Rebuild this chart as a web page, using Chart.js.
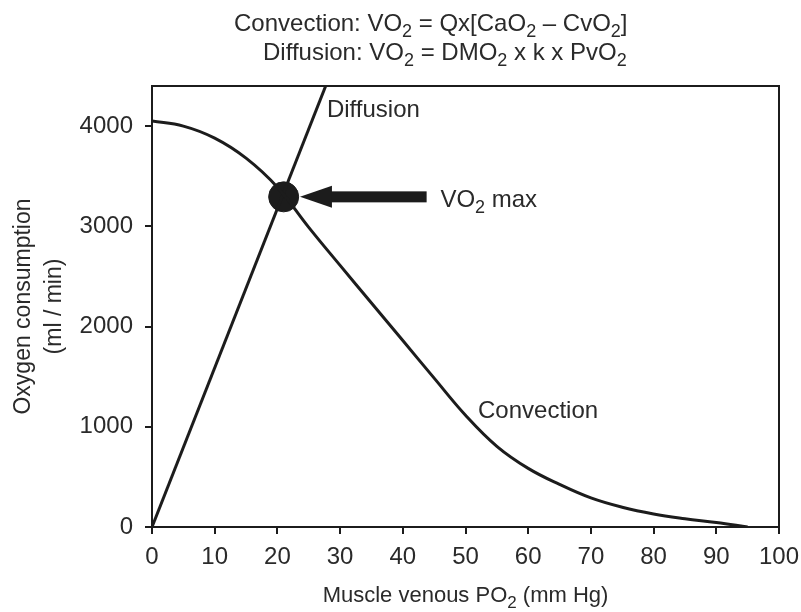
<!DOCTYPE html>
<html>
<head>
<meta charset="utf-8">
<script src="https://cdn.jsdelivr.net/npm/chart.js@4.4.0/dist/chart.umd.min.js"></script>
<style>
  body { margin: 0; background: #fff; }
  #wrap { width: 801px; height: 612px; }
</style>
</head>
<body>
<div id="wrap"><canvas id="canvas" width="801" height="612"></canvas></div>
<script>
// values
const convX = [0, 5, 10, 15, 20, 25, 30, 35, 40, 45, 50, 55, 60, 65, 70, 75, 80, 85, 90, 95];
const convY = [4050, 4000, 3880, 3680, 3390, 2990, 2610, 2235, 1860, 1485, 1115, 805, 585, 425, 290, 197, 130, 83, 45, 0];
const diffX = [0, 27.7];
const diffY = [0, 4400];
const vo2maxX = [21];
const vo2maxY = [3294];
const xTicks = [0, 10, 20, 30, 40, 50, 60, 70, 80, 90, 100];
const yTicks = [0, 1000, 2000, 3000, 4000];

const ink = '#1c1c1c';
const textCol = '#2a2a2a';
const fontName = '"Liberation Sans", Arial, Helvetica, sans-serif';

// draws text with subscript parts: [[text, isSub], ...]
function drawRich(ctx, parts, x, y, size, align) {
  let total = 0;
  parts.forEach(p => {
    ctx.font = (p[1] ? Math.round(size * 0.75) : size) + 'px ' + fontName;
    total += ctx.measureText(p[0]).width;
  });
  let cx = x;
  if (align === 'center') cx = x - total / 2;
  parts.forEach(p => {
    ctx.font = (p[1] ? Math.round(size * 0.75) : size) + 'px ' + fontName;
    ctx.fillText(p[0], cx, p[1] ? y + 6 : y);
    cx += ctx.measureText(p[0]).width;
  });
}

const extras = {
  id: 'extras',
  afterDatasetsDraw(chart) {
    const ctx = chart.ctx;
    const xs = chart.scales.x;
    const ys = chart.scales.y;
    const area = chart.chartArea;
    ctx.save();

    // top + right border of the box
    ctx.strokeStyle = ink;
    ctx.lineWidth = 2;
    ctx.beginPath();
    ctx.moveTo(area.left, area.top);
    ctx.lineTo(area.right, area.top);
    ctx.lineTo(area.right, area.bottom);
    ctx.stroke();

    // arrow pointing at VO2 max
    const py = ys.getPixelForValue(vo2maxY[0]);
    const tip = xs.getPixelForValue(23.6);
    const headBase = xs.getPixelForValue(28.7);
    const tail = xs.getPixelForValue(43.8);
    ctx.fillStyle = ink;
    ctx.fillRect(headBase - 1, py - 5.5, tail - headBase + 1, 11);
    ctx.beginPath();
    ctx.moveTo(tip, py);
    ctx.lineTo(headBase, py - 11);
    ctx.lineTo(headBase, py + 11);
    ctx.closePath();
    ctx.fill();

    ctx.fillStyle = textCol;
    ctx.textBaseline = 'alphabetic';
    ctx.textAlign = 'left';

    // curve labels
    drawRich(ctx, [['Diffusion', 0]], xs.getPixelForValue(27.9), ys.getPixelForValue(4087), 24);
    drawRich(ctx, [['Convection', 0]], xs.getPixelForValue(52), ys.getPixelForValue(1087), 24);
    drawRich(ctx, [['VO', 0], ['2', 1], [' max', 0]], xs.getPixelForValue(46), ys.getPixelForValue(3190), 24);

    // equations above the plot
    drawRich(ctx, [['Convection: VO', 0], ['2', 1], [' = Qx[CaO', 0], ['2', 1], [' \u2013 CvO', 0], ['2', 1], [']', 0]], 234, 31, 24);
    drawRich(ctx, [['Diffusion: VO', 0], ['2', 1], [' = DMO', 0], ['2', 1], [' x k x PvO', 0], ['2', 1]], 263, 60, 24);

    // x axis title
    drawRich(ctx, [['Muscle venous PO', 0], ['2', 1], [' (mm Hg)', 0]], (area.left + area.right) / 2, 602, 22, 'center');

    // y axis title, two lines rotated
    const midY = (area.top + area.bottom) / 2;
    ctx.translate(0, midY);
    ctx.rotate(-Math.PI / 2);
    ctx.textAlign = 'center';
    ctx.font = '23px ' + fontName;
    ctx.fillText('Oxygen consumption', 0, 30);
    ctx.fillText('(ml / min)', 0, 61);
    ctx.restore();
  }
};

const data = {
  datasets: [
    {
      label: 'Convection',
      data: convX.map((x, i) => ({ x: x, y: convY[i] })),
      showLine: true,
      borderColor: ink,
      borderWidth: 3,
      pointRadius: 0,
      tension: 0.4
    },
    {
      label: 'Diffusion',
      data: diffX.map((x, i) => ({ x: x, y: diffY[i] })),
      showLine: true,
      borderColor: ink,
      borderWidth: 3,
      pointRadius: 0
    },
    {
      label: 'VO2 max',
      data: vo2maxX.map((x, i) => ({ x: x, y: vo2maxY[i] })),
      showLine: false,
      pointRadius: 15,
      pointBackgroundColor: ink,
      pointBorderColor: ink,
      pointBorderWidth: 1
    }
  ]
};

const tickFont = { family: fontName, size: 24 };

const options = {
  responsive: false,
  animation: { duration: 0 },
  layout: { padding: { top: 86, right: 22, left: 0, bottom: 0 } },
  plugins: {
    legend: { display: false },
    tooltip: { enabled: false }
  },
  scales: {
    x: {
      type: 'linear',
      min: 0,
      max: 100,
      afterFit: function(scale) {
        scale.height = 85;
        // the "100" label may hang past the box, like in the original
        scale.paddingLeft = 0;
        scale.paddingRight = 0;
      },
      afterBuildTicks: function(scale) { scale.ticks = xTicks.map(v => ({ value: v })); },
      ticks: { color: textCol, font: tickFont, padding: 9, maxRotation: 0, callback: v => String(v) },
      grid: { drawOnChartArea: false, drawTicks: true, tickLength: 7, color: ink, lineWidth: 2 },
      border: { color: ink, width: 2 }
    },
    y: {
      type: 'linear',
      min: 0,
      max: 4400,
      afterFit: function(scale) {
        scale.width = 152;
        scale.paddingTop = 0;
        scale.paddingBottom = 0;
      },
      afterBuildTicks: function(scale) { scale.ticks = yTicks.map(v => ({ value: v })); },
      ticks: { color: textCol, font: tickFont, padding: 12, callback: v => String(v) },
      grid: { drawOnChartArea: false, drawTicks: true, tickLength: 7, color: ink, lineWidth: 2 },
      border: { color: ink, width: 2 }
    }
  }
};

const ctx = document.getElementById('canvas').getContext('2d');
new Chart(ctx, {
  type: 'scatter',
  data: data,
  options: options,
  plugins: [extras]
});
</script>
</body>
</html>
